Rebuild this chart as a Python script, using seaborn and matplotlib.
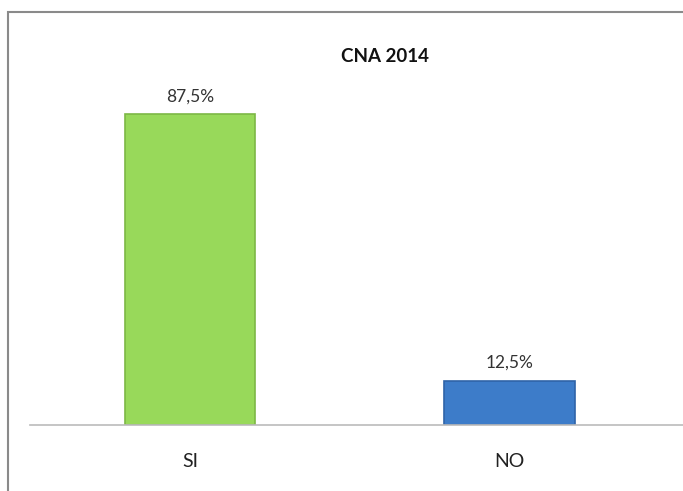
import matplotlib
matplotlib.use("Agg")
import matplotlib.pyplot as plt
import matplotlib.patches as mpatches
import seaborn as sns
import pandas as pd

# values
categorias = ["SI", "NO"]
porcentajes = [87.5, 12.5]
colores = ["#98D95A", "#3D7CC9"]
bordes = ["#7DB845", "#2F63A8"]

sns.set_style("white")
plt.rcParams['font.family'] = ['Lato', 'DejaVu Sans']

df = pd.DataFrame({"resp": categorias, "pct": porcentajes})

fig = plt.figure(figsize=(6.83, 4.91), dpi=100)
ax = fig.add_axes([30 / 683, 66 / 491, 653 / 683, 355 / 491])

sns.barplot(data=df, x="resp", y="pct", hue="resp", palette=colores,
            width=0.41, legend=False, ax=ax, saturation=1)
for bar, ec in zip(ax.patches, bordes):
    bar.set_edgecolor(ec)
    bar.set_linewidth(1.2)

etiquetas = [f"{v:.1f}%".replace(".", ",") for v in porcentajes]
for bar, txt in zip(ax.patches, etiquetas):
    ax.annotate(txt, (bar.get_x() + bar.get_width() / 2, bar.get_height()),
                xytext=(0, 7), textcoords="offset points",
                ha="center", va="bottom", fontsize=12.5, color="#333333")

ax.set_ylim(0, 100)
ax.set_xlim(-0.5016, 1.545)
ax.set_xlabel("")
ax.set_ylabel("")
ax.set_yticks([])
ax.tick_params(axis="x", length=0, pad=20, labelsize=14, colors="#222222")
for s in ["top", "left", "right"]:
    ax.spines[s].set_visible(False)
ax.spines["bottom"].set_color("#BBBBBB")
ax.spines["bottom"].set_linewidth(1.2)

fig.text(385 / 683, 1 - 57 / 491, "CNA 2014", ha="center", va="center",
         fontsize=13.5, fontweight="bold", color="#111111")

# chart border
borde = mpatches.Rectangle((8 / 683, -0.1), 1.2, 1 - 12 / 491 + 0.1,
                           transform=fig.transFigure, fill=False,
                           edgecolor="#8A8A8A", linewidth=1.5)
fig.patches.append(borde)

fig.savefig("out.png", dpi=100)
